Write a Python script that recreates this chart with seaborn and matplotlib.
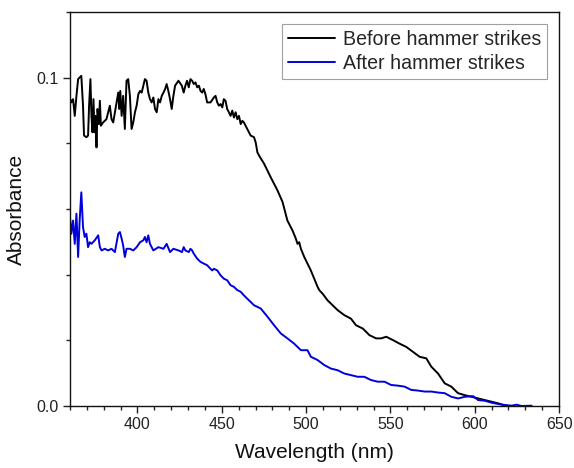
import matplotlib
matplotlib.use("Agg")
import matplotlib.pyplot as plt
from matplotlib.ticker import MultipleLocator, FormatStrFormatter
import pandas as pd
import seaborn as sns

# Absorbance spectra (wavelength in nm)
before_wl = [359.8, 360.8, 361.8, 362.8, 363.8, 364.8, 365.7, 366.7, 367.7, 368.3,
             369.7, 370.7, 371.3, 372.1, 372.7, 373.3, 373.9, 374.5, 375.1, 375.7,
             376.3, 377.1, 377.7, 378.3, 379.6, 381.6, 383.6, 384.6, 385.6, 386.6,
             387.6, 388.6, 389.2, 389.8, 390.6, 391.5, 392.5, 393.5, 394.5, 395.5,
             396.5, 397.5, 398.5, 399.5, 400.5, 401.5, 402.5, 403.5, 404.4, 405.4,
             406.4, 407.4, 408.4, 409.4, 410.4, 411.4, 412.4, 413.4, 414.4, 415.4,
             416.4, 417.3, 418.3, 419.3, 420.3, 421.3, 422.3, 424.3, 426.3, 427.4,
             428.4, 429.4, 430.4, 431.4, 432.4, 433.4, 434.4, 435.4, 436.4, 437.4,
             438.4, 439.3, 440.3, 441.3, 443.3, 445.3, 446.3, 447.3, 448.3, 449.3,
             450.3, 451.2, 452.2, 453.2, 454.2, 455.2, 456.2, 457.2, 458.2, 459.2,
             460.2, 461.2, 462.2, 463.1, 464.1, 465.1, 466.1, 467.1, 469.1, 470.1,
             471.1, 472.1, 475.1, 479.0, 483.0, 486.0, 488.9, 491.9, 493.9, 494.9,
             495.9, 496.9, 498.9, 500.8, 502.8, 504.8, 506.8, 507.8, 509.8, 512.7,
             515.7, 518.7, 522.6, 526.6, 529.6, 533.6, 537.5, 541.5, 544.5, 547.5,
             551.4, 555.4, 559.4, 563.3, 567.3, 571.3, 574.2, 578.2, 582.2, 586.1,
             590.1, 594.1, 598.0, 602.0, 606.0, 610.0, 614.0, 616.9, 619.9]
before_abs = [0.0940, 0.0925, 0.0935, 0.0884, 0.0945, 0.0996, 0.1001, 0.1006, 0.0915, 0.0824,
              0.0819, 0.0824, 0.0915, 0.0996, 0.0884, 0.0834, 0.0935, 0.0834, 0.0884, 0.0788,
              0.0905, 0.0859, 0.0930, 0.0854, 0.0864, 0.0874, 0.0915, 0.0874, 0.0864, 0.0895,
              0.0925, 0.0955, 0.0905, 0.0960, 0.0884, 0.0945, 0.0844, 0.0991, 0.0996, 0.0945,
              0.0844, 0.0864, 0.0895, 0.0915, 0.0950, 0.0960, 0.0955, 0.0976, 0.0996, 0.0991,
              0.0955, 0.0935, 0.0925, 0.0940, 0.0905, 0.0895, 0.0935, 0.0925, 0.0945, 0.0955,
              0.0966, 0.0981, 0.0960, 0.0935, 0.0905, 0.0945, 0.0976, 0.0991, 0.0976, 0.0955,
              0.0976, 0.0991, 0.0971, 0.0996, 0.0991, 0.0981, 0.0986, 0.0971, 0.0976, 0.0960,
              0.0955, 0.0966, 0.0950, 0.0925, 0.0925, 0.0940, 0.0945, 0.0925, 0.0915, 0.0920,
              0.0910, 0.0935, 0.0930, 0.0905, 0.0895, 0.0884, 0.0900, 0.0879, 0.0895, 0.0874,
              0.0884, 0.0859, 0.0869, 0.0864, 0.0854, 0.0844, 0.0834, 0.0824, 0.0819, 0.0803,
              0.0773, 0.0763, 0.0738, 0.0697, 0.0657, 0.0622, 0.0565, 0.0535, 0.0510, 0.0494,
              0.0499, 0.0479, 0.0454, 0.0434, 0.0413, 0.0388, 0.0363, 0.0353, 0.0342, 0.0322,
              0.0307, 0.0292, 0.0277, 0.0266, 0.0246, 0.0236, 0.0216, 0.0206, 0.0206, 0.0211,
              0.0201, 0.0190, 0.0180, 0.0165, 0.0150, 0.0145, 0.0120, 0.0099, 0.0069, 0.0059,
              0.0039, 0.0033, 0.0028, 0.0023, 0.0018, 0.0013, 0.0008, 0.0003, 0.0000]

after_wl = [359.8, 360.8, 361.8, 362.8, 363.8, 364.8, 365.7, 366.7, 367.7, 368.7,
            369.7, 370.7, 371.7, 372.7, 374.7, 376.7, 377.7, 378.7, 380.6, 382.6,
            384.6, 386.6, 388.6, 389.6, 390.6, 391.5, 392.5, 393.5, 395.5, 397.5,
            399.5, 401.5, 403.5, 404.4, 405.4, 406.4, 407.4, 409.4, 412.4, 415.4,
            417.3, 419.3, 421.3, 424.3, 426.4, 427.4, 428.4, 430.4, 431.4, 432.4,
            433.4, 435.4, 437.4, 439.3, 441.3, 443.3, 444.3, 445.3, 447.3, 449.3,
            451.2, 453.2, 455.2, 457.2, 459.2, 461.2, 463.1, 465.1, 469.1, 473.1,
            477.1, 481.0, 485.0, 488.9, 492.9, 496.9, 500.8, 502.8, 506.8, 510.7,
            514.7, 518.7, 522.6, 526.6, 530.6, 534.5, 538.5, 542.5, 546.5, 550.4,
            554.4, 558.4, 562.3, 566.3, 570.3, 574.2, 578.2, 582.2, 586.1, 590.1,
            594.1, 599.0, 602.0, 606.0, 610.0, 614.0, 617.9, 621.9, 624.8, 627.8,
            633.7]
after_abs = [0.0586, 0.0525, 0.0565, 0.0494, 0.0586, 0.0454, 0.0565, 0.0651, 0.0545, 0.0515,
             0.0525, 0.0484, 0.0499, 0.0494, 0.0505, 0.0520, 0.0484, 0.0474, 0.0479, 0.0474,
             0.0479, 0.0469, 0.0525, 0.0530, 0.0510, 0.0489, 0.0454, 0.0479, 0.0479, 0.0474,
             0.0484, 0.0499, 0.0505, 0.0515, 0.0499, 0.0520, 0.0494, 0.0474, 0.0484, 0.0479,
             0.0494, 0.0469, 0.0479, 0.0474, 0.0469, 0.0484, 0.0474, 0.0469, 0.0479, 0.0474,
             0.0464, 0.0449, 0.0439, 0.0434, 0.0429, 0.0418, 0.0413, 0.0418, 0.0413, 0.0398,
             0.0388, 0.0383, 0.0368, 0.0363, 0.0353, 0.0348, 0.0337, 0.0327, 0.0307, 0.0297,
             0.0272, 0.0246, 0.0221, 0.0206, 0.0190, 0.0170, 0.0170, 0.0150, 0.0140, 0.0125,
             0.0114, 0.0109, 0.0099, 0.0094, 0.0089, 0.0089, 0.0079, 0.0074, 0.0074, 0.0064,
             0.0062, 0.0059, 0.0049, 0.0047, 0.0044, 0.0044, 0.0041, 0.0039, 0.0028, 0.0023,
             0.0028, 0.0030, 0.0018, 0.0016, 0.0010, 0.0006, 0.0003, 0.0001, 0.0004, 0.0000,
             0.0001]

series_names = ["Before hammer strikes", "After hammer strikes"]
series_colors = ["#000000", "#0000dd"]

sns.set_style("ticks")
plt.rcParams["font.family"] = ["Liberation Sans", "DejaVu Sans"]

fig = plt.figure(figsize=(5.74, 4.68), dpi=100)
ax = fig.add_axes([0.122, 0.1325, 0.852, 0.8415])

for wl, ab, name, col in zip([before_wl, after_wl], [before_abs, after_abs],
                             series_names, series_colors):
    df = pd.DataFrame({"Wavelength": wl, "Absorbance": ab})
    sns.lineplot(data=df, x="Wavelength", y="Absorbance", ax=ax, color=col,
                 linewidth=1.4, label=name, sort=False)

ax.set_xlim(360, 650)
ax.set_ylim(0, 0.12)
ax.xaxis.set_major_locator(MultipleLocator(50))
ax.xaxis.set_minor_locator(MultipleLocator(10))
ax.yaxis.set_major_locator(MultipleLocator(0.1))
ax.yaxis.set_minor_locator(MultipleLocator(0.02))
ax.yaxis.set_major_formatter(FormatStrFormatter("%.1f"))

ax.tick_params(which="major", direction="out", length=5, width=1, labelsize=11.5,
               colors="#222222", pad=3)
ax.tick_params(which="minor", direction="out", length=3, width=1)
for s in ax.spines.values():
    s.set_visible(True)
    s.set_linewidth(1.0)
    s.set_color("#111111")

ax.set_xlabel("Wavelength (nm)", fontsize=15, labelpad=8, color="#111111")
ax.set_ylabel("Absorbance", fontsize=15, labelpad=8, color="#111111")

leg = ax.legend(loc="upper right", fontsize=14.1, frameon=True, fancybox=False,
                handlelength=2.4, handletextpad=0.4, borderpad=0.3,
                labelspacing=0.25, borderaxespad=0.6)
leg.get_frame().set_edgecolor("#888888")
leg.get_frame().set_linewidth(0.8)
for line in leg.get_lines():
    line.set_linewidth(1.4)

fig.savefig("out.png", dpi=100)
